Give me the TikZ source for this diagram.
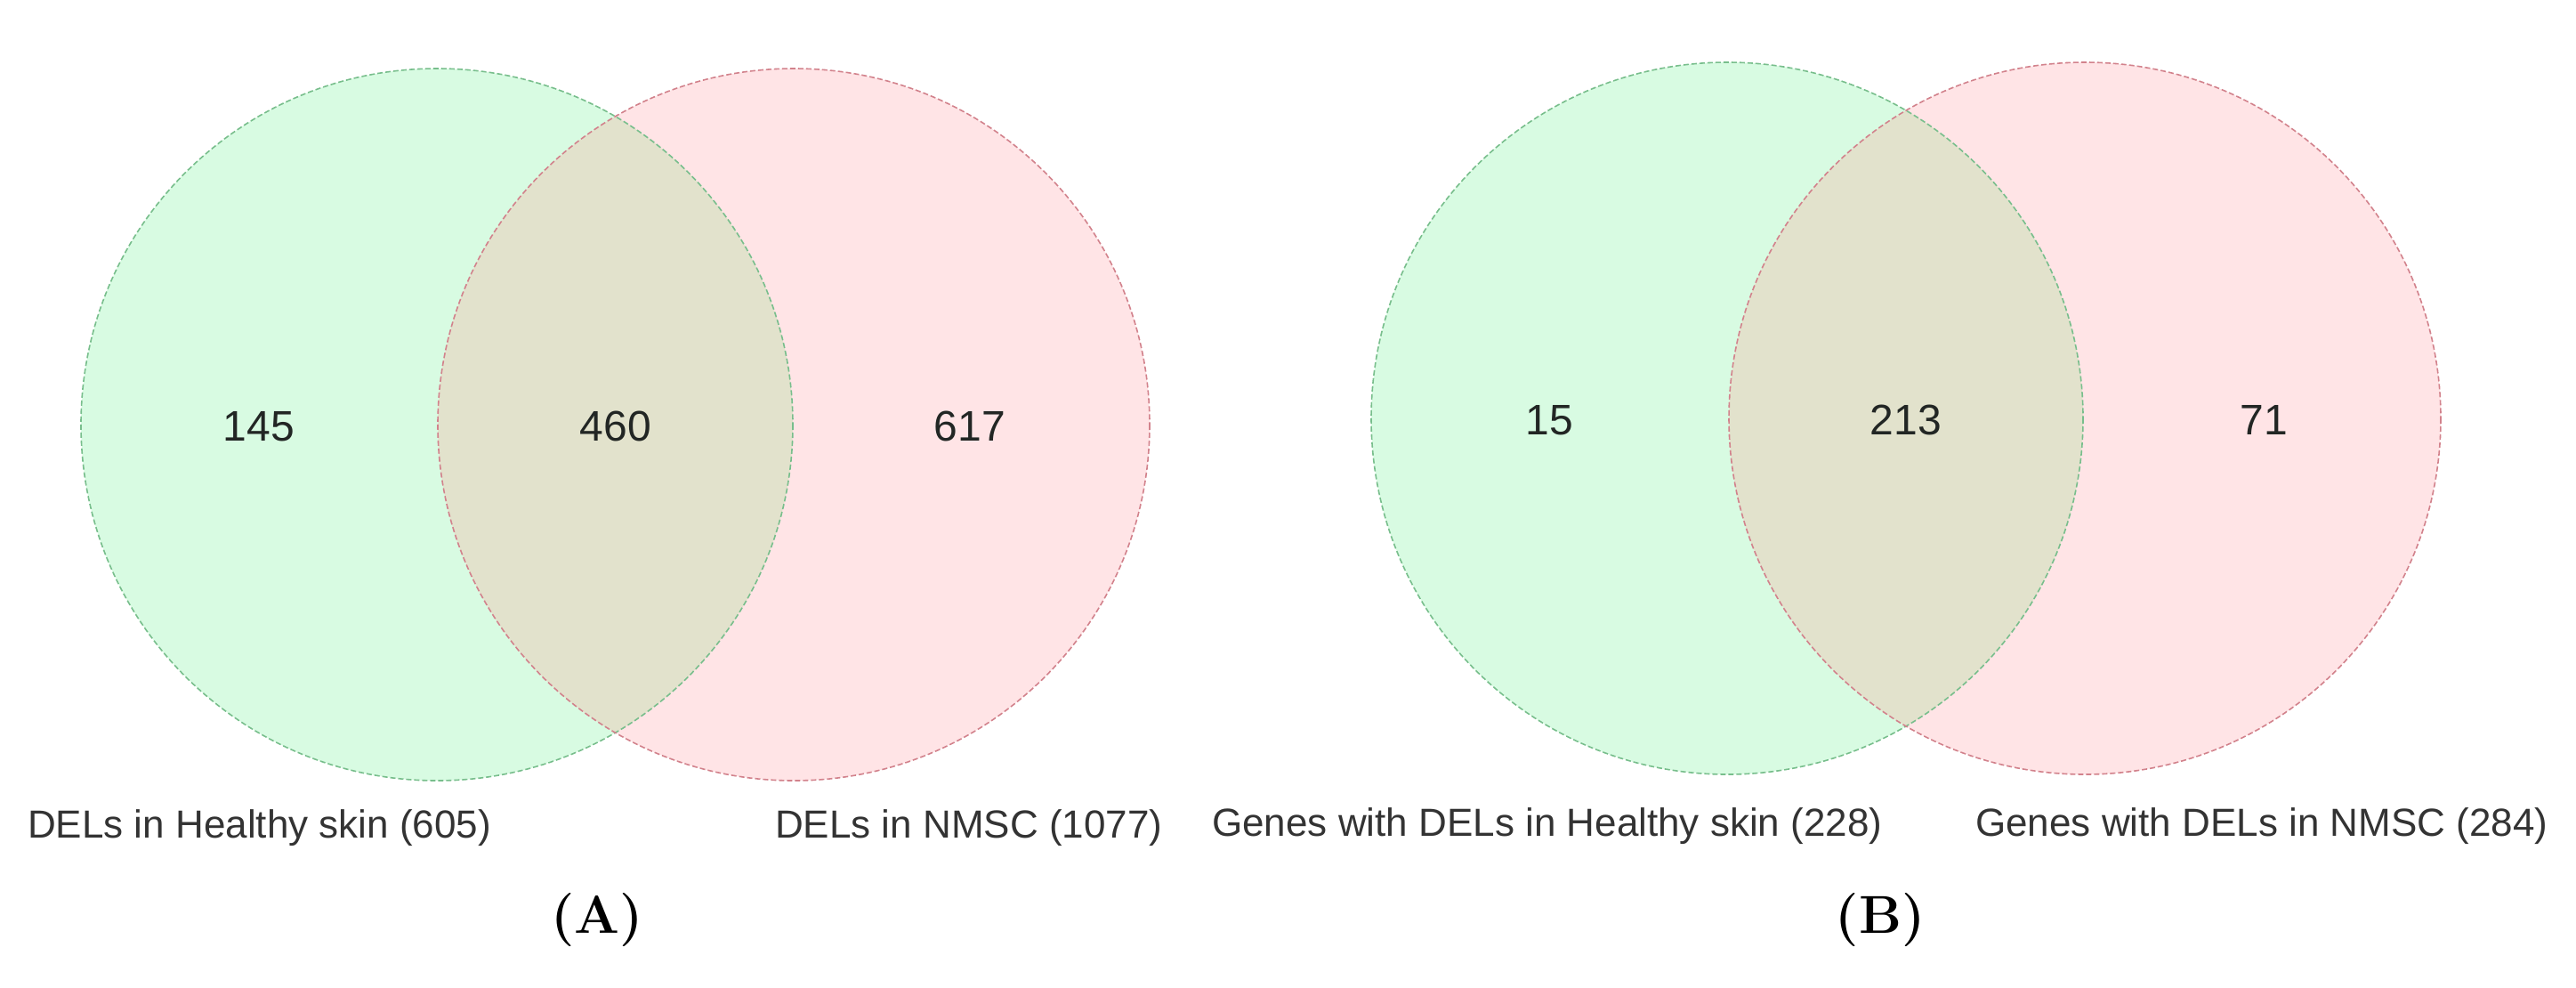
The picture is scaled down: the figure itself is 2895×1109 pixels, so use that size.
\documentclass[tikz,border=0pt]{standalone}
\usepackage{fontspec}
\setsansfont{Liberation Sans}
\begin{document}
\begin{tikzpicture}[x=1pt,y=-1pt,
  greenfill/.style={fill={rgb,255:red,216;green,251;blue,226}},
  redfill/.style={fill={rgb,255:red,255;green,228;blue,230}},
  overlapfill/.style={fill={rgb,255:red,226;green,226;blue,204}},
  greenline/.style={draw={rgb,255:red,120;green,190;blue,140},line width=1.6pt,dash pattern=on 6pt off 3pt},
  redline/.style={draw={rgb,255:red,210;green,130;blue,140},line width=1.6pt,dash pattern=on 6pt off 3pt},
  num/.style={font=\sffamily\fontsize{48}{56}\selectfont,text={rgb,255:red,34;green,38;blue,36},anchor=base,inner sep=0pt},
  setlabel/.style={font=\sffamily\fontsize{44}{52}\selectfont,text={rgb,255:red,51;green,51;blue,51},anchor=base west,inner sep=0pt},
  panel/.style={font=\bfseries\fontsize{60}{70}\selectfont,anchor=center,inner sep=0pt}]
\useasboundingbox (0,0) rectangle (2895,1109);
% Panel A
\coordinate (gA) at (491,477);
\coordinate (rA) at (892,477);
\fill[greenfill] (gA) circle[radius=400];
\fill[redfill] (rA) circle[radius=400];
\begin{scope}
\clip (gA) circle[radius=400];
\fill[overlapfill] (rA) circle[radius=400];
\end{scope}
\draw[greenline] (gA) circle[radius=400];
\draw[redline] (rA) circle[radius=400];
\node[num] (nA1) at (291,495) {145};
\node[num] (nA2) at (692,495) {460};
\node[num] (nA3) at (1090,495) {617};
\node[setlabel] (lA1) at (31,941) {DELs in Healthy skin (605)};
\node[setlabel] (lA2) at (871,941) {DELs in NMSC (1077)};
\node[panel] (pA) at (671,1034) {(A)};
% Panel B
\coordinate (gB) at (1941,470);
\coordinate (rB) at (2343,470);
\fill[greenfill] (gB) circle[radius=400];
\fill[redfill] (rB) circle[radius=400];
\begin{scope}
\clip (gB) circle[radius=400];
\fill[overlapfill] (rB) circle[radius=400];
\end{scope}
\draw[greenline] (gB) circle[radius=400];
\draw[redline] (rB) circle[radius=400];
\node[num] (nB1) at (1741,488) {15};
\node[num] (nB2) at (2142,488) {213};
\node[num] (nB3) at (2544,488) {71};
\node[setlabel] (lB1) at (1362,939) {Genes with DELs in Healthy skin (228)};
\node[setlabel] (lB2) at (2220,939) {Genes with DELs in NMSC (284)};
\node[panel] (pB) at (2113,1034) {(B)};
\end{tikzpicture}
\end{document}
